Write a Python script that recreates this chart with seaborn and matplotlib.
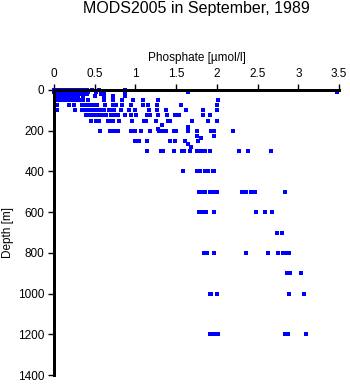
import matplotlib
matplotlib.use("Agg")
import matplotlib.pyplot as plt
import numpy as np
import pandas as pd
import seaborn as sns

# Phosphate (umol/l) observed at each standard depth (m)
depth_levels = [0, 10, 20, 30, 50, 75, 100, 125, 150, 200, 250, 300,
                400, 500, 600, 700, 800, 900, 1000, 1200]

p_0 = [0.0, 0.02, 0.04, 0.06, 0.08, 0.1, 0.12, 0.14, 0.17, 0.2, 0.22, 0.25,
       0.28, 0.3, 0.33, 0.36, 0.4, 0.47, 0.55, 0.87]
p_10 = [0.0, 0.03, 0.05, 0.08, 0.11, 0.14, 0.18, 0.21, 0.24, 0.27, 0.31,
        0.35, 0.38, 0.42, 0.51, 0.62, 1.64, 3.48]
p_20 = [0.01, 0.04, 0.07, 0.1, 0.13, 0.16, 0.19, 0.23, 0.26, 0.29, 0.32,
        0.36, 0.4, 0.58, 0.87]
p_30 = [0.02, 0.06, 0.1, 0.14, 0.18, 0.22, 0.26, 0.3, 0.35, 0.5, 0.62, 0.72,
        0.87]
p_50 = [0.04, 0.08, 0.12, 0.16, 0.2, 0.24, 0.28, 0.32, 0.36, 0.42, 0.62,
        0.72, 0.83, 0.97, 1.09, 1.28, 2.01]
p_75 = [0.04, 0.19, 0.25, 0.34, 0.38, 0.42, 0.46, 0.49, 0.53, 0.63, 0.72,
        0.76, 0.83, 0.94, 1.09, 1.16, 1.26, 1.56, 2.0]
p_100 = [0.04, 0.26, 0.34, 0.38, 0.42, 0.46, 0.5, 0.54, 0.58, 0.62, 0.67,
         0.72, 0.74, 0.82, 0.92, 0.99, 1.17, 1.26, 1.38, 1.62, 1.83, 2.0]
p_125 = [0.39, 0.43, 0.47, 0.51, 0.55, 0.6, 0.64, 0.7, 0.74, 0.79, 0.87,
         0.95, 1.01, 1.14, 1.18, 1.28, 1.39, 1.48, 1.54, 1.83, 1.92]
p_150 = [0.46, 0.52, 0.55, 0.66, 0.69, 0.72, 0.8, 0.96, 1.11, 1.13, 1.25,
         1.4, 1.42, 1.69, 1.89, 2.0]
p_200 = [0.57, 0.69, 0.72, 0.75, 0.78, 0.95, 0.99, 1.07, 1.18, 1.29, 1.33,
         1.36, 1.38, 1.47, 1.5, 1.64, 1.75, 1.93, 1.96, 2.2]
p_250 = [0.99, 1.04, 1.14, 1.42, 1.49, 1.61, 1.77]
p_300 = [1.14, 1.31, 1.34, 1.47, 1.57, 1.6, 1.67, 1.75, 1.8, 1.82, 1.86,
         1.92, 2.27, 2.38, 2.66]
p_400 = [1.59, 1.76, 1.79, 1.85, 1.89, 1.95, 1.97]
p_500 = [1.78, 1.81, 1.83, 1.86, 1.91, 1.96, 2.0, 2.31, 2.34, 2.36, 2.42,
         2.44, 2.47, 2.84]
p_600 = [1.78, 1.81, 1.83, 1.87, 1.96, 2.48, 2.59, 2.68]
p_700 = [2.74, 2.8]
p_800 = [1.84, 1.87, 1.88, 1.96, 2.36, 2.63, 2.75, 2.81, 2.85, 2.89]
p_900 = [2.86, 2.9, 3.03]
p_1000 = [1.91, 1.93, 2.0, 2.89, 3.07]
p_1200 = [1.92, 1.94, 1.96, 2.02, 2.84, 2.87, 3.1]

# Casts between standard levels
extra_depth = [173, 183, 190, 228, 228, 236, 265, 281]
extra_phos = [1.33, 1.64, 1.28, 1.75, 1.96, 1.8, 1.64, 1.68]

x_ticks = [0, 0.5, 1, 1.5, 2, 2.5, 3, 3.5]
x_tick_labels = ["0", "0.5", "1", "1.5", "2", "2.5", "3", "3.5"]
y_ticks = [0, 200, 400, 600, 800, 1000, 1200, 1400]

profiles = [p_0, p_10, p_20, p_30, p_50, p_75, p_100, p_125, p_150, p_200,
            p_250, p_300, p_400, p_500, p_600, p_700, p_800, p_900, p_1000,
            p_1200]

rows = []
for d, vals in zip(depth_levels, profiles):
    rows += [(v, d) for v in vals]
rows += list(zip(extra_phos, extra_depth))
df = pd.DataFrame(rows, columns=["phosphate", "depth"])

sns.set_style("ticks")
plt.rcParams["font.family"] = ["Liberation Sans", "DejaVu Sans"]

fig = plt.figure(figsize=(3.5, 3.84), dpi=100)
ax = fig.add_axes([54 / 350, 1 - 375 / 384, 285 / 350, 285 / 384])

# Samples drawn beneath the axis lines
sns.scatterplot(data=df, x="phosphate", y="depth", marker="s", s=6.5,
                color="#0000ff", linewidth=0, ax=ax, legend=False,
                clip_on=False, zorder=2, antialiased=False)

ax.set_xlim(0, 3.5)
ax.set_ylim(1400, 0)
ax.set_xticks(x_ticks)
ax.set_xticklabels(x_tick_labels)
ax.set_yticks(y_ticks)
ax.xaxis.tick_top()
ax.xaxis.set_label_position("top")

for side in ["right", "bottom"]:
    ax.spines[side].set_visible(False)
for side in ["left", "top"]:
    ax.spines[side].set_color("black")
    ax.spines[side].set_linewidth(1.0)
    ax.spines[side].set_antialiased(False)
    ax.spines[side].set_zorder(3)

ax.tick_params(axis="both", direction="out", length=4, width=1.0,
               color="black", labelsize=8.5, labelcolor="black", pad=3)

ax.set_xlabel("Phosphate [\u00b5mol/l]", fontsize=8.5, color="black",
              labelpad=5)
ax.set_ylabel("")
fig.text(8 / 350, 1 - 233 / 384, "Depth [m]", rotation=90, ha="center",
         va="center", fontsize=8.5, color="black")

fig.text(196.5 / 350, 1 - 13 / 384, "MODS2005 in September, 1989",
         ha="center", va="baseline", fontsize=11.5, color="black")

fig.savefig("out.png", dpi=100, facecolor="white")
